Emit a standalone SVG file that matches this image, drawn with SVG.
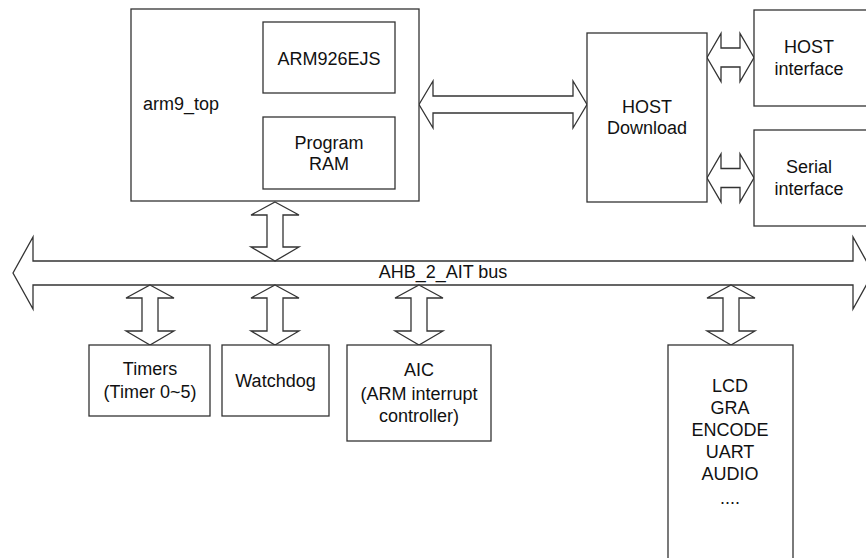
<svg xmlns="http://www.w3.org/2000/svg" width="866" height="558" viewBox="0 0 866 558">
<style>
.box{fill:#fff;stroke:#333;stroke-width:1.3}
.arr{fill:#fff;stroke:#333;stroke-width:1.3;stroke-linejoin:miter}
text{font-family:"Liberation Sans",Arial,sans-serif;font-size:18px;fill:#111}
.c{text-anchor:middle}
</style>
<rect width="866" height="558" fill="#fff"/>
<g id="connectors">
<polygon class="arr" points="13,273 33,237 33,261 853,261 853,237 873,273 853,309 853,285 33,285 33,309"/>
<polygon class="arr" points="419,104.5 433,81 433,96 573,96 573,81 587,104.5 573,128 573,113 433,113 433,128"/>
<polygon class="arr" points="707,57.5 721,33.5 721,48 740,48 740,33.5 754,57.5 740,81.5 740,67 721,67 721,81.5"/>
<polygon class="arr" points="707,178 721,154 721,168.5 740,168.5 740,154 754,178 740,202 740,187.5 721,187.5 721,202"/>
<polygon class="arr" points="275,202 299,215 283,215 283,247 299,247 275,261 251,247 267,247 267,215 251,215"/>
<polygon class="arr" points="150,285 174,298 158,298 158,331 174,331 150,345 126,331 142,331 142,298 126,298"/>
<polygon class="arr" points="275,285 299,298 283,298 283,331 299,331 275,345 251,331 267,331 267,298 251,298"/>
<polygon class="arr" points="419,285 443,298 427,298 427,331 443,331 419,345 395,331 411,331 411,298 395,298"/>
<polygon class="arr" points="731,285 755,298 739,298 739,331 755,331 731,345 707,331 723,331 723,298 707,298"/>
<text class="c" x="443" y="278">AHB_2_AIT bus</text>
</g>
<g id="arm9_top">
<rect class="box" x="131" y="9" width="288" height="192"/>
<text x="143" y="110">arm9_top</text>
</g>
<g id="arm926ejs">
<rect class="box" x="263" y="22" width="132" height="71"/>
<text class="c" x="329" y="65">ARM926EJS</text>
</g>
<g id="program_ram">
<rect class="box" x="263" y="117" width="132" height="72"/>
<text class="c" x="329" y="149">Program</text>
<text class="c" x="329" y="170">RAM</text>
</g>
<g id="host_download">
<rect class="box" x="587" y="33" width="120" height="169"/>
<text class="c" x="647" y="113">HOST</text>
<text class="c" x="647" y="134">Download</text>
</g>
<g id="host_interface">
<rect class="box" x="754" y="10" width="116" height="96"/>
<text class="c" x="809" y="53">HOST</text>
<text class="c" x="809" y="75">interface</text>
</g>
<g id="serial_interface">
<rect class="box" x="754" y="130" width="116" height="96"/>
<text class="c" x="809" y="173">Serial</text>
<text class="c" x="809" y="195">interface</text>
</g>
<g id="timers">
<rect class="box" x="89" y="345" width="121" height="71"/>
<text class="c" x="150" y="375">Timers</text>
<text class="c" x="150" y="398">(Timer 0~5)</text>
</g>
<g id="watchdog">
<rect class="box" x="222" y="345" width="107" height="71"/>
<text class="c" x="275.5" y="387">Watchdog</text>
</g>
<g id="aic">
<rect class="box" x="347" y="345" width="144" height="96"/>
<text class="c" x="419" y="376">AIC</text>
<text class="c" x="419" y="400">(ARM interrupt</text>
<text class="c" x="419" y="422">controller)</text>
</g>
<g id="peripherals">
<rect class="box" x="668" y="345" width="125" height="230"/>
<text class="c" x="730" y="392">LCD</text>
<text class="c" x="730" y="414">GRA</text>
<text class="c" x="730" y="436">ENCODE</text>
<text class="c" x="730" y="458">UART</text>
<text class="c" x="730" y="480">AUDIO</text>
<text class="c" x="730" y="504">....</text>
</g>
</svg>
